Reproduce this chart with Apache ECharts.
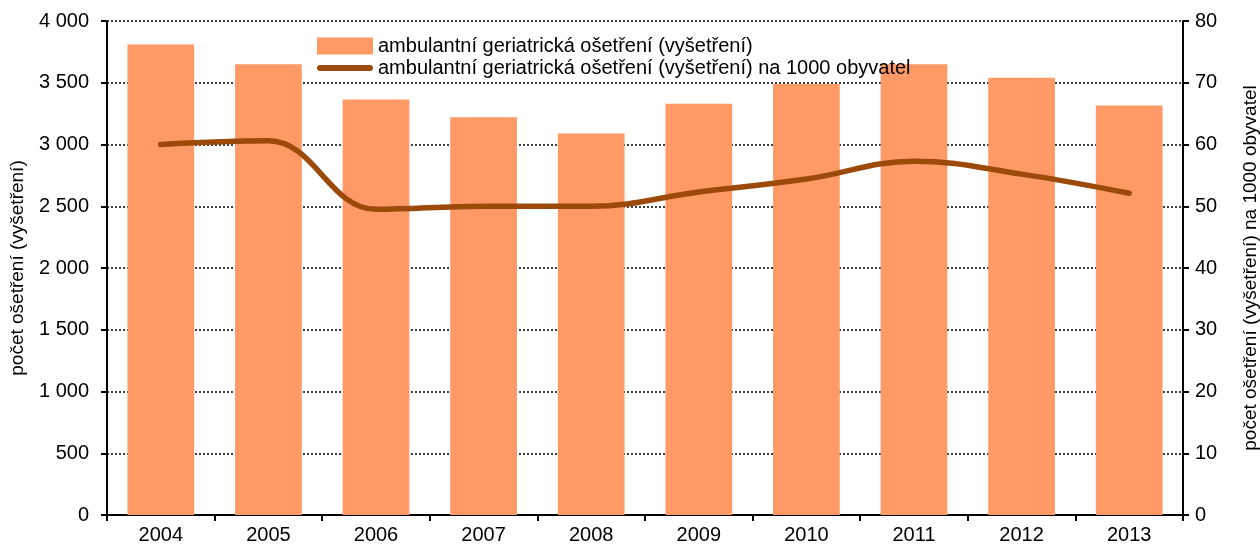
<!DOCTYPE html>
<html>
<head>
<meta charset="utf-8">
<script src="https://cdn.jsdelivr.net/npm/echarts@6/dist/echarts.min.js"></script>
<style>
html,body{margin:0;padding:0;background:#fff;}
#Map{width:1260px;height:549px;}
</style>
</head>
<body>
<div id="Map"></div>
<script>
// data
var years = ['2004','2005','2006','2007','2008','2009','2010','2011','2012','2013'];
var osetreni = [3810,3650,3365,3220,3090,3330,3490,3650,3540,3315];
var na1000 = [60.0,60.6,49.5,50.0,50.0,52.3,54.4,57.3,55.2,52.1];

var barName = 'ambulantní geriatrická ošetření (vyšetření)';
var lineName = 'ambulantní geriatrická ošetření (vyšetření) na 1000 obyvatel';

var font = 'Liberation Sans, Arial, sans-serif';

var myChart = echarts.init(document.getElementById('Map'));
var option = {
    animation: false,
    textStyle: { fontFamily: font },
    legend: {
        orient: 'vertical',
        left: 312,
        top: 31,
        itemGap: 2,
        itemWidth: 56,
        itemHeight: 17,
        textStyle: { fontSize: 20, color: '#000', fontFamily: font },
        data: [
            { name: barName, icon: 'rect' },
            { name: lineName, icon: 'path://M3,0 L53,0 A3,3 0 0 1 53,6 L3,6 A3,3 0 0 1 3,0 Z' }
        ]
    },
    grid: {
        left: 107,
        right: 77,
        top: 21,
        bottom: 34,
        containLabel: false,
        outerBoundsMode: 'none'
    },
    xAxis: {
        type: 'category',
        data: years,
        axisLine: { lineStyle: { color: '#000', width: 2 } },
        axisTick: { show: true, length: 6, lineStyle: { color: '#000', width: 2 } },
        axisLabel: { color: '#000', fontSize: 20, margin: 10 }
    },
    yAxis: [
        {
            type: 'value',
            min: 0,
            max: 4000,
            interval: 500,
            name: 'počet ošetření (vyšetření)',
            nameLocation: 'middle',
            nameGap: 80,
            nameTextStyle: { color: '#000', fontSize: 19 },
            axisLine: { show: true, lineStyle: { color: '#000', width: 2 } },
            axisTick: { show: true, length: 6, lineStyle: { color: '#000', width: 2 } },
            axisLabel: {
                color: '#000', fontSize: 20, margin: 18,
                formatter: function (v) {
                    return v >= 1000 ? Math.floor(v / 1000) + ' ' + String(v % 1000).padStart(3, '0') : String(v);
                }
            },
            splitLine: { show: true, lineStyle: { color: '#000', type: [2, 2], width: 1.5 } }
        },
        {
            type: 'value',
            min: 0,
            max: 80,
            interval: 10,
            name: 'počet ošetření (vyšetření) na 1000 obyvatel',
            nameLocation: 'middle',
            nameGap: 58,
            nameRotate: 90,
            nameTextStyle: { color: '#000', fontSize: 19 },
            axisLine: { show: true, lineStyle: { color: '#000', width: 2 } },
            axisTick: { show: true, length: 6, lineStyle: { color: '#000', width: 2 } },
            axisLabel: { color: '#000', fontSize: 20, margin: 12 },
            splitLine: { show: false }
        }
    ],
    series: [
        {
            name: barName,
            type: 'bar',
            data: osetreni,
            barWidth: '62%',
            itemStyle: { color: '#FF9966' }
        },
        {
            name: lineName,
            type: 'line',
            yAxisIndex: 1,
            data: na1000,
            smooth: 0.4,
            showSymbol: false,
            symbol: 'none',
            lineStyle: { color: '#9C4A0A', width: 5.5, cap: 'round' },
            itemStyle: { color: '#9C4A0A' }
        }
    ]
};
myChart.setOption(option);
</script>
</body>
</html>
